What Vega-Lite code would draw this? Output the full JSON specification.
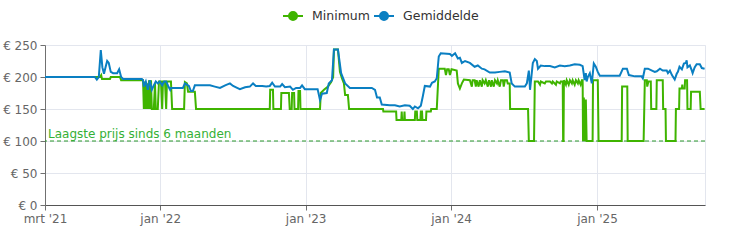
{
  "$schema": "https://vega.github.io/schema/vega-lite/v6.json",
  "width": 660,
  "height": 160,
  "autosize": {"type": "none"},
  "padding": {"left": 45, "top": 45, "right": 45, "bottom": 45},
  "background": "white",
  "config": {
    "font": "DejaVu Sans",
    "view": {"stroke": "#e3e6ee"},
    "axis": {"gridColor": "#e3e6ee", "labelColor": "#666666", "labelFontSize": 12, "domainColor": "#707070", "tickColor": "#707070", "titleFontSize": 12}
  },
  "datasets": {
    "min": [
      {"date": "2021-03-18", "price": 200}, {"date": "2021-08-03", "price": 200}, {"date": "2021-08-06", "price": 203}, {"date": "2021-08-08", "price": 197}, {"date": "2021-08-28", "price": 197}, {"date": "2021-08-30", "price": 200}, {"date": "2021-09-22", "price": 200}, {"date": "2021-09-25", "price": 195},
      {"date": "2021-11-19", "price": 195}, {"date": "2021-11-21", "price": 150}, {"date": "2021-11-24", "price": 193}, {"date": "2021-11-26", "price": 150}, {"date": "2021-11-29", "price": 190}, {"date": "2021-12-01", "price": 150}, {"date": "2021-12-04", "price": 195}, {"date": "2021-12-06", "price": 150}, {"date": "2021-12-09", "price": 195}, {"date": "2021-12-11", "price": 150}, {"date": "2021-12-16", "price": 150}, {"date": "2021-12-19", "price": 190}, {"date": "2021-12-21", "price": 150}, {"date": "2021-12-26", "price": 150}, {"date": "2021-12-29", "price": 193},
      {"date": "2022-01-03", "price": 193}, {"date": "2022-01-06", "price": 150}, {"date": "2022-01-08", "price": 193}, {"date": "2022-01-13", "price": 193}, {"date": "2022-01-16", "price": 150}, {"date": "2022-01-18", "price": 193}, {"date": "2022-01-28", "price": 193}, {"date": "2022-01-31", "price": 150}, {"date": "2022-03-02", "price": 150}, {"date": "2022-03-04", "price": 192}, {"date": "2022-03-09", "price": 190}, {"date": "2022-03-12", "price": 177}, {"date": "2022-03-29", "price": 177}, {"date": "2022-04-01", "price": 150},
      {"date": "2022-10-03", "price": 150}, {"date": "2022-10-04", "price": 180}, {"date": "2022-10-11", "price": 180}, {"date": "2022-10-12", "price": 150}, {"date": "2022-10-31", "price": 150}, {"date": "2022-11-01", "price": 175}, {"date": "2022-11-20", "price": 175}, {"date": "2022-11-22", "price": 150}, {"date": "2022-11-27", "price": 150}, {"date": "2022-11-28", "price": 175}, {"date": "2022-12-03", "price": 175}, {"date": "2022-12-04", "price": 150}, {"date": "2022-12-13", "price": 150}, {"date": "2022-12-14", "price": 178}, {"date": "2022-12-18", "price": 178}, {"date": "2022-12-19", "price": 150},
      {"date": "2023-02-06", "price": 150}, {"date": "2023-02-08", "price": 175}, {"date": "2023-02-16", "price": 180}, {"date": "2023-02-26", "price": 185}, {"date": "2023-03-06", "price": 192}, {"date": "2023-03-11", "price": 200}, {"date": "2023-03-13", "price": 243}, {"date": "2023-03-23", "price": 243}, {"date": "2023-03-28", "price": 208}, {"date": "2023-04-02", "price": 198}, {"date": "2023-04-07", "price": 190}, {"date": "2023-04-10", "price": 172}, {"date": "2023-04-17", "price": 172}, {"date": "2023-04-20", "price": 150},
      {"date": "2023-07-14", "price": 150}, {"date": "2023-07-15", "price": 146}, {"date": "2023-08-16", "price": 146}, {"date": "2023-08-17", "price": 133}, {"date": "2023-08-29", "price": 133}, {"date": "2023-08-30", "price": 146}, {"date": "2023-08-31", "price": 133}, {"date": "2023-09-05", "price": 133}, {"date": "2023-09-06", "price": 146}, {"date": "2023-09-07", "price": 133}, {"date": "2023-10-02", "price": 133}, {"date": "2023-10-03", "price": 146}, {"date": "2023-10-07", "price": 146}, {"date": "2023-10-08", "price": 133}, {"date": "2023-10-16", "price": 133}, {"date": "2023-10-17", "price": 146}, {"date": "2023-10-20", "price": 146}, {"date": "2023-10-21", "price": 133}, {"date": "2023-10-30", "price": 133}, {"date": "2023-10-31", "price": 146}, {"date": "2023-11-11", "price": 146}, {"date": "2023-11-12", "price": 150}, {"date": "2023-11-26", "price": 150},
      {"date": "2023-12-01", "price": 213}, {"date": "2023-12-16", "price": 213}, {"date": "2023-12-19", "price": 203}, {"date": "2023-12-22", "price": 212}, {"date": "2023-12-26", "price": 212}, {"date": "2023-12-29", "price": 203}, {"date": "2024-01-02", "price": 212}, {"date": "2024-01-15", "price": 210}, {"date": "2024-01-18", "price": 190}, {"date": "2024-01-23", "price": 182}, {"date": "2024-01-28", "price": 190}, {"date": "2024-02-02", "price": 196}, {"date": "2024-02-17", "price": 195},
      {"date": "2024-02-22", "price": 185}, {"date": "2024-02-24", "price": 195}, {"date": "2024-02-29", "price": 195}, {"date": "2024-03-03", "price": 185}, {"date": "2024-03-05", "price": 195}, {"date": "2024-03-10", "price": 185}, {"date": "2024-03-13", "price": 195}, {"date": "2024-03-18", "price": 185}, {"date": "2024-03-20", "price": 195}, {"date": "2024-03-25", "price": 190}, {"date": "2024-03-28", "price": 195}, {"date": "2024-04-02", "price": 185}, {"date": "2024-04-05", "price": 195}, {"date": "2024-04-10", "price": 185}, {"date": "2024-04-12", "price": 195}, {"date": "2024-04-17", "price": 185}, {"date": "2024-04-20", "price": 195}, {"date": "2024-04-25", "price": 190}, {"date": "2024-04-27", "price": 195}, {"date": "2024-05-02", "price": 185}, {"date": "2024-05-05", "price": 195}, {"date": "2024-05-10", "price": 195}, {"date": "2024-05-12", "price": 185}, {"date": "2024-05-15", "price": 195}, {"date": "2024-05-20", "price": 195}, {"date": "2024-05-22", "price": 190}, {"date": "2024-05-27", "price": 190}, {"date": "2024-05-28", "price": 150},
      {"date": "2024-07-12", "price": 150}, {"date": "2024-07-14", "price": 100}, {"date": "2024-07-27", "price": 100}, {"date": "2024-07-29", "price": 193}, {"date": "2024-08-06", "price": 193}, {"date": "2024-08-11", "price": 188}, {"date": "2024-08-13", "price": 193}, {"date": "2024-08-23", "price": 190}, {"date": "2024-08-26", "price": 193}, {"date": "2024-09-05", "price": 193}, {"date": "2024-09-10", "price": 190}, {"date": "2024-09-12", "price": 193}, {"date": "2024-09-20", "price": 188}, {"date": "2024-09-22", "price": 193}, {"date": "2024-09-30", "price": 190}, {"date": "2024-10-02", "price": 193}, {"date": "2024-10-07", "price": 193}, {"date": "2024-10-08", "price": 100}, {"date": "2024-10-09", "price": 100}, {"date": "2024-10-10", "price": 195},
      {"date": "2024-10-15", "price": 188}, {"date": "2024-10-17", "price": 195}, {"date": "2024-10-22", "price": 188}, {"date": "2024-10-25", "price": 195}, {"date": "2024-10-30", "price": 190}, {"date": "2024-11-01", "price": 195}, {"date": "2024-11-06", "price": 188}, {"date": "2024-11-09", "price": 195}, {"date": "2024-11-14", "price": 190}, {"date": "2024-11-16", "price": 195}, {"date": "2024-11-21", "price": 188}, {"date": "2024-11-24", "price": 195}, {"date": "2024-11-26", "price": 195}, {"date": "2024-11-27", "price": 100}, {"date": "2024-11-29", "price": 168}, {"date": "2024-12-01", "price": 100}, {"date": "2024-12-04", "price": 165}, {"date": "2024-12-06", "price": 100}, {"date": "2024-12-21", "price": 100}, {"date": "2024-12-22", "price": 195}, {"date": "2025-01-03", "price": 195}, {"date": "2025-01-05", "price": 100},
      {"date": "2025-03-04", "price": 100}, {"date": "2025-03-05", "price": 185}, {"date": "2025-03-18", "price": 185}, {"date": "2025-03-19", "price": 100}, {"date": "2025-04-28", "price": 100}, {"date": "2025-05-01", "price": 195}, {"date": "2025-05-06", "price": 195}, {"date": "2025-05-07", "price": 185}, {"date": "2025-05-10", "price": 193}, {"date": "2025-05-16", "price": 193}, {"date": "2025-05-17", "price": 150}, {"date": "2025-05-30", "price": 150}, {"date": "2025-05-31", "price": 195}, {"date": "2025-06-15", "price": 195}, {"date": "2025-06-16", "price": 150}, {"date": "2025-06-22", "price": 150}, {"date": "2025-06-23", "price": 100}, {"date": "2025-07-17", "price": 100}, {"date": "2025-07-18", "price": 150}, {"date": "2025-07-26", "price": 150}, {"date": "2025-07-27", "price": 182}, {"date": "2025-08-02", "price": 182}, {"date": "2025-08-03", "price": 188}, {"date": "2025-08-04", "price": 182}, {"date": "2025-08-09", "price": 182}, {"date": "2025-08-10", "price": 195}, {"date": "2025-08-15", "price": 195}, {"date": "2025-08-16", "price": 150}, {"date": "2025-08-24", "price": 150}, {"date": "2025-08-25", "price": 177}, {"date": "2025-09-16", "price": 177}, {"date": "2025-09-18", "price": 150}, {"date": "2025-09-28", "price": 150}
    ],
    "avg": [
      {"date": "2021-03-18", "price": 200}, {"date": "2021-07-21", "price": 200}, {"date": "2021-07-26", "price": 196}, {"date": "2021-07-31", "price": 200}, {"date": "2021-08-05", "price": 242}, {"date": "2021-08-09", "price": 215}, {"date": "2021-08-13", "price": 205}, {"date": "2021-08-18", "price": 218}, {"date": "2021-08-21", "price": 225}, {"date": "2021-08-25", "price": 222}, {"date": "2021-08-30", "price": 208}, {"date": "2021-09-05", "price": 206}, {"date": "2021-09-15", "price": 206}, {"date": "2021-09-20", "price": 212}, {"date": "2021-09-25", "price": 200}, {"date": "2021-09-30", "price": 197},
      {"date": "2021-11-16", "price": 197}, {"date": "2021-11-19", "price": 195}, {"date": "2021-11-21", "price": 185}, {"date": "2021-11-26", "price": 193}, {"date": "2021-12-01", "price": 180}, {"date": "2021-12-06", "price": 195}, {"date": "2021-12-11", "price": 180}, {"date": "2021-12-16", "price": 187}, {"date": "2021-12-21", "price": 193}, {"date": "2021-12-26", "price": 190}, {"date": "2021-12-31", "price": 193}, {"date": "2022-01-06", "price": 187}, {"date": "2022-01-11", "price": 193}, {"date": "2022-01-16", "price": 193}, {"date": "2022-01-21", "price": 186}, {"date": "2022-01-26", "price": 180}, {"date": "2022-01-28", "price": 183}, {"date": "2022-02-27", "price": 183},
      {"date": "2022-03-04", "price": 190}, {"date": "2022-03-09", "price": 188}, {"date": "2022-03-14", "price": 186}, {"date": "2022-03-19", "price": 178}, {"date": "2022-03-24", "price": 178}, {"date": "2022-03-29", "price": 187}, {"date": "2022-05-06", "price": 187}, {"date": "2022-05-18", "price": 185}, {"date": "2022-05-31", "price": 183}, {"date": "2022-06-13", "price": 187}, {"date": "2022-06-25", "price": 190}, {"date": "2022-07-03", "price": 186}, {"date": "2022-07-13", "price": 183}, {"date": "2022-07-20", "price": 181}, {"date": "2022-08-02", "price": 184}, {"date": "2022-08-14", "price": 185}, {"date": "2022-08-22", "price": 190}, {"date": "2022-08-29", "price": 186}, {"date": "2022-09-14", "price": 186}, {"date": "2022-09-24", "price": 185}, {"date": "2022-10-03", "price": 186}, {"date": "2022-10-09", "price": 191}, {"date": "2022-10-16", "price": 185}, {"date": "2022-10-29", "price": 185}, {"date": "2022-11-03", "price": 189}, {"date": "2022-11-10", "price": 184}, {"date": "2022-11-23", "price": 185}, {"date": "2022-11-30", "price": 180}, {"date": "2022-12-08", "price": 183}, {"date": "2022-12-18", "price": 183}, {"date": "2022-12-23", "price": 187}, {"date": "2022-12-30", "price": 181},
      {"date": "2023-01-31", "price": 181}, {"date": "2023-02-06", "price": 164}, {"date": "2023-02-11", "price": 174}, {"date": "2023-02-23", "price": 175}, {"date": "2023-02-28", "price": 190}, {"date": "2023-03-08", "price": 195}, {"date": "2023-03-13", "price": 243}, {"date": "2023-03-23", "price": 243}, {"date": "2023-03-31", "price": 206}, {"date": "2023-04-10", "price": 190}, {"date": "2023-04-22", "price": 183}, {"date": "2023-06-16", "price": 183}, {"date": "2023-06-24", "price": 180}, {"date": "2023-06-29", "price": 168}, {"date": "2023-07-06", "price": 168}, {"date": "2023-07-11", "price": 157}, {"date": "2023-07-31", "price": 156}, {"date": "2023-08-13", "price": 156}, {"date": "2023-08-25", "price": 154}, {"date": "2023-09-07", "price": 156}, {"date": "2023-09-19", "price": 155}, {"date": "2023-09-27", "price": 150}, {"date": "2023-10-02", "price": 154}, {"date": "2023-10-10", "price": 151}, {"date": "2023-10-17", "price": 155}, {"date": "2023-10-22", "price": 170}, {"date": "2023-10-27", "price": 186}, {"date": "2023-11-09", "price": 185}, {"date": "2023-11-14", "price": 191}, {"date": "2023-11-21", "price": 193}, {"date": "2023-11-26", "price": 198},
      {"date": "2023-12-01", "price": 232}, {"date": "2023-12-06", "price": 237}, {"date": "2023-12-29", "price": 236}, {"date": "2024-01-03", "price": 233}, {"date": "2024-01-11", "price": 237}, {"date": "2024-01-18", "price": 229}, {"date": "2024-01-23", "price": 230}, {"date": "2024-01-28", "price": 222}, {"date": "2024-02-05", "price": 225}, {"date": "2024-02-17", "price": 222}, {"date": "2024-02-29", "price": 216}, {"date": "2024-03-08", "price": 218}, {"date": "2024-03-18", "price": 213}, {"date": "2024-03-25", "price": 212}, {"date": "2024-04-07", "price": 207}, {"date": "2024-04-20", "price": 207}, {"date": "2024-05-02", "price": 208}, {"date": "2024-05-15", "price": 209}, {"date": "2024-05-27", "price": 207}, {"date": "2024-06-01", "price": 190}, {"date": "2024-06-09", "price": 185}, {"date": "2024-07-04", "price": 185}, {"date": "2024-07-09", "price": 190}, {"date": "2024-07-14", "price": 210}, {"date": "2024-07-17", "price": 180}, {"date": "2024-07-24", "price": 222}, {"date": "2024-07-29", "price": 228}, {"date": "2024-08-03", "price": 225}, {"date": "2024-08-06", "price": 213}, {"date": "2024-08-13", "price": 218}, {"date": "2024-08-23", "price": 217},
      {"date": "2024-09-05", "price": 217}, {"date": "2024-09-17", "price": 215}, {"date": "2024-09-30", "price": 218}, {"date": "2024-10-12", "price": 217}, {"date": "2024-10-25", "price": 218}, {"date": "2024-11-06", "price": 220}, {"date": "2024-11-19", "price": 219}, {"date": "2024-11-26", "price": 217}, {"date": "2024-12-01", "price": 195}, {"date": "2024-12-04", "price": 206}, {"date": "2024-12-06", "price": 193}, {"date": "2024-12-09", "price": 200}, {"date": "2024-12-14", "price": 206}, {"date": "2024-12-19", "price": 190}, {"date": "2024-12-24", "price": 221}, {"date": "2024-12-29", "price": 216}, {"date": "2025-01-03", "price": 208}, {"date": "2025-01-08", "price": 202}, {"date": "2025-02-27", "price": 202}, {"date": "2025-03-07", "price": 213}, {"date": "2025-03-17", "price": 213}, {"date": "2025-03-22", "price": 203}, {"date": "2025-04-06", "price": 201}, {"date": "2025-04-23", "price": 201}, {"date": "2025-04-26", "price": 198},
      {"date": "2025-05-01", "price": 213}, {"date": "2025-05-09", "price": 213}, {"date": "2025-05-19", "price": 210}, {"date": "2025-05-26", "price": 208}, {"date": "2025-05-31", "price": 209}, {"date": "2025-06-08", "price": 213}, {"date": "2025-06-15", "price": 210}, {"date": "2025-06-25", "price": 210}, {"date": "2025-06-28", "price": 206}, {"date": "2025-07-03", "price": 210}, {"date": "2025-07-08", "price": 203}, {"date": "2025-07-15", "price": 196}, {"date": "2025-07-20", "price": 205}, {"date": "2025-07-23", "price": 208}, {"date": "2025-07-27", "price": 216}, {"date": "2025-08-02", "price": 212}, {"date": "2025-08-07", "price": 221}, {"date": "2025-08-12", "price": 222}, {"date": "2025-08-14", "price": 226}, {"date": "2025-08-16", "price": 215}, {"date": "2025-08-22", "price": 218}, {"date": "2025-08-27", "price": 210}, {"date": "2025-08-29", "price": 206}, {"date": "2025-09-03", "price": 215}, {"date": "2025-09-08", "price": 220}, {"date": "2025-09-16", "price": 220}, {"date": "2025-09-21", "price": 214}, {"date": "2025-09-28", "price": 213}
    ],
    "ref": [{"date": "2021-03-18", "price": 100, "label": "Laagste prijs sinds 6 maanden"}]
  },
  "encoding": {
    "x": {
      "field": "date", "type": "temporal", "title": null,
      "scale": {"type": "utc", "domain": [{"year": 2021, "month": 3, "date": 18, "utc": true}, {"year": 2025, "month": 9, "date": 29, "utc": true}]},
      "axis": {
        "values": [{"year": 2021, "month": 3, "date": 18, "utc": true}, {"year": 2022, "month": 1, "date": 1, "utc": true}, {"year": 2023, "month": 1, "date": 1, "utc": true}, {"year": 2024, "month": 1, "date": 1, "utc": true}, {"year": 2025, "month": 1, "date": 1, "utc": true}],
        "labelExpr": "(utcmonth(datum.value) == 0 ? 'jan' : 'mrt') + \" '\" + utcFormat(datum.value, '%y')",
        "domainColor": "#555555", "tickSize": 5, "labelPadding": 3, "labelFlush": false, "labelOverlap": false
      }
    },
    "y": {
      "field": "price", "type": "quantitative", "title": null,
      "scale": {"domain": [0, 250], "nice": false},
      "axis": {"values": [0, 50, 100, 150, 200, 250], "labelExpr": "'€ ' + datum.value", "tickSize": 5, "labelPadding": 3}
    }
  },
  "layer": [
    {
      "data": {"name": "ref"},
      "mark": {"type": "rule", "color": "#2a982a", "strokeDash": [4, 3], "strokeWidth": 1},
      "encoding": {"x": null}
    },
    {
      "data": {"name": "ref"},
      "mark": {"type": "text", "align": "left", "baseline": "alphabetic", "dx": 3, "dy": -3, "color": "#35b035", "fontSize": 12, "font": "DejaVu Sans"},
      "encoding": {"text": {"field": "label"}}
    },
    {
      "data": {"name": "min"},
      "mark": {"type": "line", "strokeWidth": 2, "interpolate": "linear"},
      "encoding": {
        "color": {
          "datum": "Minimum", "type": "nominal",
          "scale": {"domain": ["Minimum", "Gemiddelde"], "range": ["#3fb400", "#0a7fc2"]},
          "legend": {
            "title": null, "orient": "none", "direction": "horizontal", "legendX": 237, "legendY": -40,
            "symbolType": "M-1,0L1,0M0.4,0A0.4,0.4,0,1,1,-0.4,0A0.4,0.4,0,1,1,0.4,0",
            "symbolSize": 400, "symbolStrokeWidth": 2, "labelFontSize": 12.5, "labelColor": "#333333", "labelOffset": 8, "columnPadding": 0, "padding": 0,
            "encode": {"symbols": {"update": {"fill": {"scale": "color", "field": "value"}, "fillOpacity": {"value": 1}}}}
          }
        }
      }
    },
    {
      "data": {"name": "avg"},
      "mark": {"type": "line", "strokeWidth": 2, "interpolate": "linear"},
      "encoding": {"color": {"datum": "Gemiddelde", "type": "nominal"}}
    }
  ]
}
